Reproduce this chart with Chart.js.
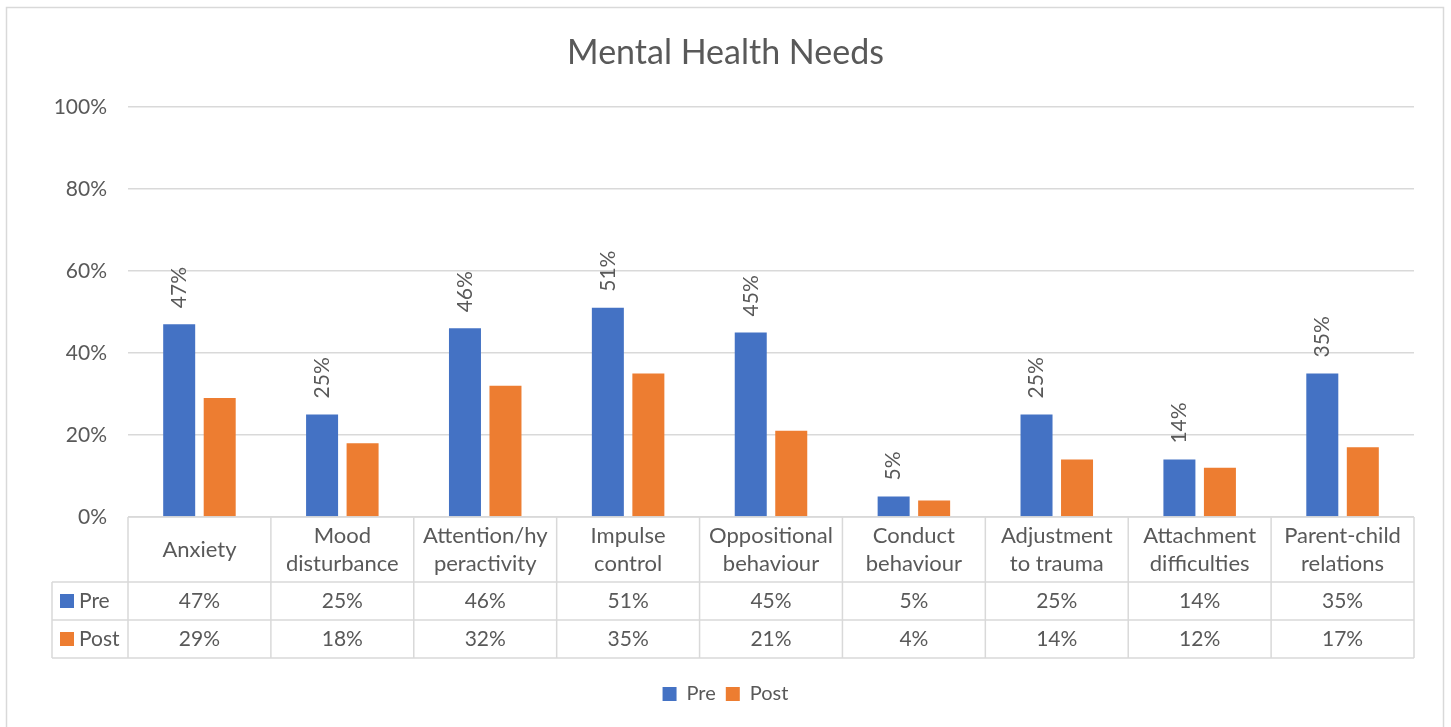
<!DOCTYPE html>
<html>
<head>
<meta charset="utf-8">
<title>Mental Health Needs</title>
<script src="https://cdn.jsdelivr.net/npm/chart.js@4.4.1/dist/chart.umd.min.js"></script>
<style>
    html, body { margin: 0; padding: 0; background: #ffffff; }
    #wrap { position: relative; width: 1451px; height: 727px; }
</style>
</head>
<body>
<div id="wrap"><canvas id="needsChart"></canvas></div>
<script>
const categories = [
    ['Anxiety'],
    ['Mood', 'disturbance'],
    ['Attention/hy', 'peractivity'],
    ['Impulse', 'control'],
    ['Oppositional', 'behaviour'],
    ['Conduct', 'behaviour'],
    ['Adjustment', 'to trauma'],
    ['Attachment', 'difficulties'],
    ['Parent-child', 'relations']
];
const preValues = [47, 25, 46, 51, 45, 5, 25, 14, 35];
const postValues = [29, 18, 32, 35, 21, 4, 14, 12, 17];
const yTicks = [0, 20, 40, 60, 80, 100];

const textColor = '#595959';
const lineColor = '#d9d9d9';
const fontFamily = 'Lato, "Liberation Sans", sans-serif';

// outer chart frame
const framePlugin = {
    id: 'frame',
    beforeDraw(chart) {
        const ctx = chart.ctx;
        ctx.save();
        ctx.fillStyle = '#ffffff';
        ctx.fillRect(0, 0, chart.width, chart.height);
        ctx.strokeStyle = lineColor;
        ctx.lineWidth = 1.5;
        ctx.strokeRect(6.5, 7.5, 1437, 800);
        ctx.restore();
    }
};

// rotated value labels above the Pre bars
const preLabelPlugin = {
    id: 'preLabels',
    afterDatasetsDraw(chart) {
        const ctx = chart.ctx;
        const meta = chart.getDatasetMeta(0);
        ctx.save();
        ctx.fillStyle = textColor;
        ctx.font = '21px ' + fontFamily;
        ctx.textAlign = 'left';
        ctx.textBaseline = 'middle';
        meta.data.forEach((bar, i) => {
            ctx.save();
            ctx.translate(bar.x, bar.y - 16);
            ctx.rotate(-Math.PI / 2);
            ctx.fillText(preValues[i] + '%', 0, 0);
            ctx.restore();
        });
        ctx.restore();
    }
};

// data table under the plot area
const dataTablePlugin = {
    id: 'dataTable',
    afterDraw(chart) {
        const ctx = chart.ctx;
        const xs = chart.scales.x;
        const left = chart.chartArea.left;
        const right = chart.chartArea.right;
        const top = chart.chartArea.bottom;
        const colW = (right - left) / categories.length;
        const headBottom = top + 65;
        const row1Bottom = headBottom + 38;
        const row2Bottom = row1Bottom + 38;
        const keyLeft = 52;

        ctx.save();
        ctx.strokeStyle = lineColor;
        ctx.lineWidth = 1.5;
        ctx.beginPath();
        ctx.moveTo(left, top); ctx.lineTo(right, top);
        [headBottom, row1Bottom, row2Bottom].forEach(y => {
            ctx.moveTo(keyLeft, y); ctx.lineTo(right, y);
        });
        for (let i = 0; i <= categories.length; i++) {
            const x = left + i * colW;
            ctx.moveTo(x, top); ctx.lineTo(x, row2Bottom);
        }
        ctx.moveTo(keyLeft, headBottom); ctx.lineTo(keyLeft, row2Bottom);
        ctx.stroke();

        ctx.fillStyle = textColor;
        ctx.textAlign = 'center';
        ctx.textBaseline = 'middle';
        const headMid = (top + headBottom) / 2;
        categories.forEach((lines, i) => {
            const cx = xs.getPixelForValue(i);
            ctx.font = '22px ' + fontFamily;
            lines.forEach((line, j) => {
                const y = headMid + (j - (lines.length - 1) / 2) * 28;
                ctx.fillText(line, cx, y);
            });
            ctx.font = '21px ' + fontFamily;
            ctx.fillText(preValues[i] + '%', cx, (headBottom + row1Bottom) / 2);
            ctx.fillText(postValues[i] + '%', cx, (row1Bottom + row2Bottom) / 2);
        });

        // series keys in the first column
        const rows = [
            { name: 'Pre', color: '#4472c4', y: (headBottom + row1Bottom) / 2 },
            { name: 'Post', color: '#ed7d31', y: (row1Bottom + row2Bottom) / 2 }
        ];
        ctx.textAlign = 'left';
        ctx.font = '21px ' + fontFamily;
        rows.forEach(r => {
            ctx.fillStyle = r.color;
            ctx.fillRect(keyLeft + 8, r.y - 7, 14, 14);
            ctx.fillStyle = textColor;
            ctx.fillText(r.name, keyLeft + 27, r.y);
        });
        ctx.restore();
    }
};

const ctx = document.getElementById('needsChart').getContext('2d');
const needsChart = new Chart(ctx, {
    type: 'bar',
    data: {
        labels: categories,
        datasets: [
            {
                label: 'Pre',
                data: preValues,
                backgroundColor: '#4472c4',
                categoryPercentage: 0.567,
                barPercentage: 0.79
            },
            {
                label: 'Post',
                data: postValues,
                backgroundColor: '#ed7d31',
                categoryPercentage: 0.567,
                barPercentage: 0.79
            }
        ]
    },
    options: {
        responsive: true,
        maintainAspectRatio: false,
        animation: false,
        layout: {
            padding: { top: 0, left: 0, right: 0, bottom: 13 }
        },
        plugins: {
            title: {
                display: true,
                text: 'Mental Health Needs',
                color: textColor,
                font: { family: fontFamily, size: 34, weight: 'normal' },
                padding: { top: 33, bottom: 33 }
            },
            legend: {
                position: 'bottom',
                labels: {
                    color: textColor,
                    font: { family: fontFamily, size: 20 },
                    boxWidth: 14,
                    boxHeight: 14,
                    padding: 10
                }
            },
            tooltip: { enabled: false }
        },
        scales: {
            x: {
                grid: { display: false },
                border: { display: false },
                ticks: { display: false },
                afterFit: scale => { scale.height = 157; }
            },
            y: {
                min: 0,
                max: 100,
                afterFit: scale => { scale.width = 128; },
                afterBuildTicks: scale => {
                    scale.ticks = yTicks.map(v => ({ value: v }));
                },
                grid: { color: lineColor, lineWidth: 1.5, drawTicks: false },
                border: { display: false },
                ticks: {
                    color: textColor,
                    font: { family: fontFamily, size: 21 },
                    padding: 21,
                    callback: v => v + '%'
                }
            },
            // empty right margin so the legend stays centred on the whole frame
            yRight: {
                position: 'right',
                grid: { display: false },
                border: { display: false },
                ticks: { display: false },
                afterFit: scale => { scale.width = 37; }
            }
        }
    },
    plugins: [framePlugin, preLabelPlugin, dataTablePlugin]
});
</script>
</body>
</html>
